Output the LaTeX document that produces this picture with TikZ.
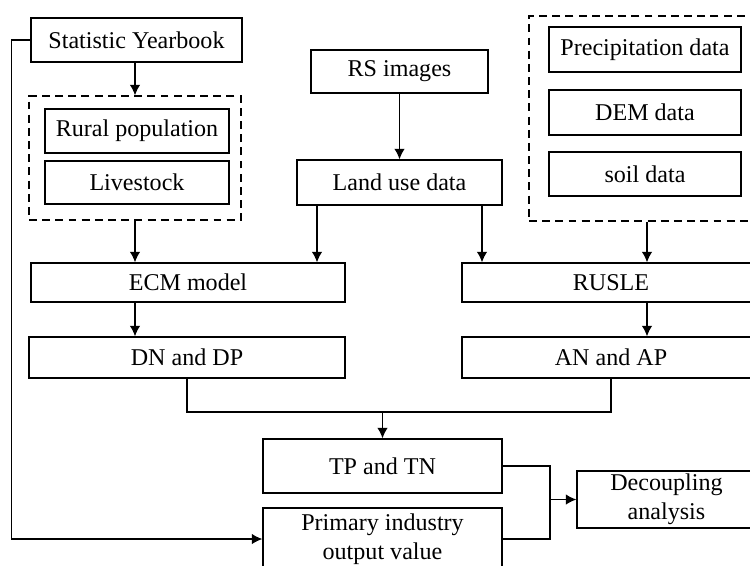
\documentclass[tikz,border=0pt]{standalone}
\usepackage{fontspec}
\setmainfont{Liberation Serif}
\usepackage{tikz}
\usetikzlibrary{arrows.meta}

\tikzset{
  box/.style={rectangle,draw=black,line width=0.75pt,inner sep=0pt,align=center,
    font=\fontsize{13.7}{16.5}\selectfont},
  dashbox/.style={rectangle,draw=black,line width=0.75pt,dash pattern=on 4.5pt off 3pt},
  arr/.style={draw=black,line width=0.75pt,-{Latex[length=6pt,width=6pt]}},
  wire/.style={draw=black,line width=0.75pt}
}

\begin{document}
\begin{tikzpicture}[x=0.02cm,y=-0.02cm]
\useasboundingbox (0,0) rectangle (750,565);
\clip (0,0) rectangle (750,565);

% left column
\node[box,minimum width=4.22cm,minimum height=0.88cm] (year) at (136.5,40) {Statistic Yearbook};
\node[dashbox,minimum width=4.24cm,minimum height=2.48cm] (dashL) at (135,158) {};
\node[box,minimum width=3.68cm,minimum height=0.88cm] (rural) at (137,131) {Rural population};
\node[box,minimum width=3.68cm,minimum height=0.86cm] (live) at (137,182.5) {Livestock};

% middle column
\node[box,minimum width=3.54cm,minimum height=0.86cm] (rs) at (399.5,71.5) {RS images};
\node[box,minimum width=4.10cm,minimum height=0.90cm] (land) at (399.5,182.5) {Land use data};

% right column
\node[dashbox,minimum width=4.72cm,minimum height=4.10cm] (dashR) at (647,118.5) {};
\node[box,minimum width=3.84cm,minimum height=0.90cm] (prec) at (645,49.5) {Precipitation data};
\node[box,minimum width=3.84cm,minimum height=0.90cm] (dem) at (645,112.5) {DEM data};
\node[box,minimum width=3.84cm,minimum height=0.88cm] (soil) at (645,174) {soil data};

% models
\node[box,minimum width=6.28cm,minimum height=0.78cm] (ecm) at (188,282.5) {ECM model};
\node[box,minimum width=6.32cm,minimum height=0.82cm] (dn) at (187,357.5) {DN and DP};
\node[box,minimum width=5.96cm,minimum height=0.78cm] (rusle) at (611,282.5) {RUSLE};
\node[box,minimum width=5.96cm,minimum height=0.82cm] (an) at (611,357.5) {AN and AP};

% results
\node[box,minimum width=4.78cm,minimum height=1.08cm] (tp) at (382.5,466) {TP and TN};
\node[box,minimum width=4.78cm,minimum height=1.24cm] (prim) at (382.5,539) {Primary industry\\output value};
\node[box,minimum width=3.58cm,minimum height=1.14cm] (dec) at (666.5,499.5) {Decoupling\\analysis};

\coordinate (landL) at (317,205);
\coordinate (landR) at (482,205);
\coordinate (join) at (382.5,412);
\coordinate (merge) at (550,499.5);

\path[arr] (dashL.north |- year.south) -- (dashL.north);
\path[arr] (dashL.south) -- (dashL.south |- ecm.north);
\path[arr] (rs.south) -- (land.north);
\path[arr] (landL) -- (landL |- ecm.north);
\path[arr] (landR) -- (landR |- rusle.north);
\path[arr] (dashR.south) -- (dashR.south |- rusle.north);
\path[arr] (dashL.south |- ecm.south) -- (dashL.south |- dn.north);
\path[arr] (dashR.south |- rusle.south) -- (dashR.south |- an.north);

\path[wire] (dn.south) |- (join) -| (an.south);
\path[arr] (join) -- (tp.north);

\path[wire] (tp.east) -| (merge) |- (prim.east);
\path[arr] (merge) -- (dec.west);

\path[arr] (year.west) -- ++(-19,0) |- (prim.west);
\end{tikzpicture}
\end{document}
